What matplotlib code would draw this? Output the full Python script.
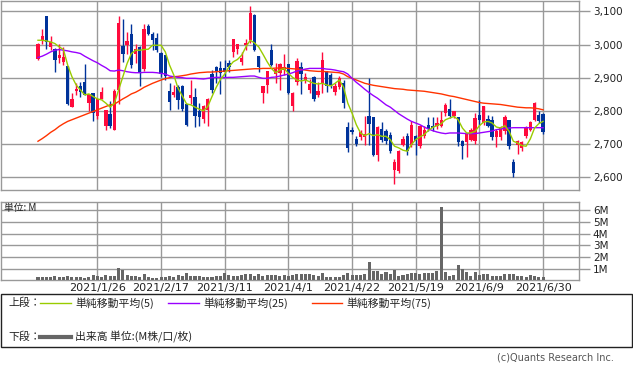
import matplotlib
matplotlib.use("Agg")
import matplotlib.pyplot as plt
from matplotlib.patches import Rectangle
from matplotlib.lines import Line2D
import numpy as np

plt.rcParams['font.family'] = ['DejaVu Sans', 'Noto Sans CJK JP']

# ---- data ----
opens = [2956,3013,3085,2993,2988,2958,2948,2935,2810,2861,2875,2887,2823,2854,2783,2836,2755,2791,2741,2862,
         2996,2998,3031,2973,2993,2926,3056,3033,3021,2975,2968,2861,2848,2873,2875,2821,2840,2843,2798,2775,
         2803,2911,2933,2928,2929,2945,2978,2988,2948,2998,3013,3088,2965,2855,2878,2985,2911,2913,2923,2941,
         2813,2888,2933,2893,2863,2901,2848,2883,2921,2908,2858,2871,2883,2750,2743,2715,2721,2721,2783,2780,
         2668,2745,2740,2728,2621,2618,2698,2725,2698,2723,2693,2723,2758,2753,2753,2755,2793,2805,2783,2781,
         2708,2705,2713,2708,2788,2763,2775,2773,2720,2720,2738,2771,2646,2698,2688,2723,2743,2773,2788,2791]
highs = [3005,3048,3085,3025,2990,3003,2993,2935,2855,2885,2888,2941,2851,2854,2836,2873,2803,2830,2865,3085,
         3076,3038,3063,3003,2995,3063,3061,3038,3035,2978,2968,2885,2878,2878,2878,2821,2893,2868,2823,2818,
         2838,2923,2935,2950,2953,2953,3016,3003,2978,3018,3115,3093,2965,2875,2920,3003,2943,2943,2973,2941,
         2858,2958,2948,2913,2895,2905,2888,2978,2921,2913,2883,2905,2893,2765,2750,2723,2743,2785,2900,2780,
         2753,2765,2745,2735,2653,2683,2725,2733,2768,2728,2758,2755,2780,2780,2780,2798,2823,2836,2798,2781,
         2713,2733,2748,2793,2833,2815,2788,2783,2745,2755,2788,2771,2655,2713,2708,2753,2770,2828,2800,2793]
lows = [2954,3003,2988,2983,2918,2943,2938,2818,2810,2848,2843,2848,2800,2768,2775,2836,2743,2748,2741,2821,
        2948,2973,2928,2943,2875,2920,3028,2985,2978,2901,2893,2801,2841,2805,2800,2753,2821,2750,2753,2763,
        2753,2855,2883,2851,2901,2918,2961,2973,2938,2985,3005,2980,2918,2825,2855,2935,2883,2863,2908,2850,
        2800,2878,2850,2883,2855,2830,2843,2855,2858,2870,2848,2865,2808,2675,2730,2695,2713,2696,2698,2663,
        2648,2705,2700,2673,2578,2613,2693,2668,2690,2668,2688,2718,2738,2738,2745,2750,2785,2778,2778,2693,
        2655,2661,2708,2700,2758,2758,2750,2713,2691,2713,2730,2685,2601,2671,2680,2718,2738,2768,2763,2730]
closes = [3003,3025,3008,3008,2953,2968,2961,2821,2836,2866,2858,2848,2851,2793,2836,2858,2803,2755,2860,3065,
          2973,3010,2938,2987,2913,3046,3033,3013,2983,2911,2905,2828,2858,2833,2805,2758,2848,2783,2781,2813,
          2836,2863,2921,2913,2918,2931,3016,3003,2960,3005,3095,2985,2933,2875,2920,2938,2925,2941,2933,2855,
          2855,2950,2911,2903,2881,2836,2861,2953,2875,2878,2875,2898,2823,2688,2735,2701,2735,2731,2761,2668,
          2750,2711,2708,2678,2646,2680,2715,2678,2758,2708,2755,2743,2745,2748,2763,2771,2818,2783,2798,2705,
          2693,2733,2743,2778,2773,2815,2755,2720,2738,2751,2780,2693,2611,2708,2705,2748,2766,2825,2768,2735]
ma5 = [3013,3013,3011,3008,3003,2993,2985,2938,2903,2878,2863,2848,2851,2843,2836,2833,2823,2811,2823,2863,
       2903,2943,2973,2983,2983,2985,2986,2998,2998,2998,2978,2938,2908,2868,2845,2821,2818,2811,2805,2800,
       2813,2843,2871,2895,2911,2933,2948,2955,2968,2993,3013,3005,2993,2971,2948,2928,2915,2923,2928,2913,
       2901,2893,2890,2893,2888,2883,2881,2883,2878,2875,2883,2893,2871,2823,2793,2758,2733,2725,2731,2725,
       2728,2723,2723,2713,2693,2688,2681,2678,2698,2713,2721,2728,2741,2750,2755,2761,2773,2778,2783,2773,
       2748,2733,2733,2738,2755,2766,2768,2763,2751,2748,2755,2738,2708,2703,2695,2693,2715,2748,2761,2768]
ma25 = [2961,2965,2971,2978,2983,2985,2983,2981,2978,2976,2973,2965,2958,2951,2945,2937,2930,2921,2920,2923,
        2921,2918,2916,2915,2915,2916,2916,2916,2915,2913,2911,2905,2903,2901,2900,2898,2898,2898,2897,2896,
        2898,2900,2901,2901,2900,2901,2901,2902,2903,2904,2905,2905,2901,2898,2898,2901,2902,2905,2908,2911,
        2915,2920,2923,2926,2928,2928,2928,2928,2926,2925,2923,2920,2918,2911,2898,2886,2876,2865,2855,2846,
        2838,2828,2818,2811,2801,2791,2783,2775,2768,2763,2758,2751,2745,2740,2736,2733,2731,2733,2733,2733,
        2732,2731,2731,2731,2733,2735,2737,2739,2743,2745,2747,2748,2749,2749,2749,2749,2749,2749,2749,2749]
ma75 = [2708,2716,2725,2735,2743,2753,2761,2768,2773,2778,2783,2788,2793,2798,2803,2808,2813,2818,2820,2828,
        2836,2843,2851,2856,2863,2871,2877,2883,2888,2893,2897,2900,2903,2904,2906,2908,2911,2913,2915,2916,
        2917,2917,2918,2919,2920,2921,2922,2923,2924,2925,2926,2927,2927,2928,2928,2928,2929,2929,2929,2928,
        2927,2926,2925,2923,2921,2920,2919,2919,2918,2917,2916,2915,2911,2903,2898,2893,2888,2883,2880,2877,
        2875,2873,2871,2869,2867,2866,2865,2863,2862,2861,2860,2859,2857,2855,2853,2851,2848,2845,2843,2840,
        2837,2834,2831,2828,2825,2823,2822,2821,2820,2819,2817,2815,2813,2811,2810,2809,2809,2808,2806,2803]
volume_m = [0.29,0.31,0.31,0.29,0.37,0.31,0.26,0.37,0.26,0.29,0.29,0.23,0.29,0.43,0.34,0.31,0.46,0.37,0.37,1.09,
            0.89,0.43,0.40,0.40,0.29,0.51,0.29,0.23,0.23,0.31,0.31,0.40,0.31,0.43,0.34,0.63,0.40,0.37,0.37,0.31,
            0.31,0.31,0.37,0.40,0.60,0.46,0.37,0.34,0.43,0.51,0.51,0.34,0.57,0.40,0.46,0.46,0.46,0.40,0.43,0.40,
            0.46,0.51,0.54,0.54,0.51,0.46,0.37,0.60,0.31,0.31,0.31,0.26,0.46,0.63,0.46,0.46,0.46,0.54,1.60,0.80,
            0.80,0.51,0.69,0.57,0.89,0.40,0.46,0.54,0.60,0.60,0.51,0.63,0.66,0.60,0.77,6.29,0.71,0.40,0.46,1.31,
            0.97,0.69,0.40,0.69,0.46,0.51,0.57,0.40,0.40,0.37,0.57,0.51,0.51,0.40,0.37,0.31,0.46,0.37,0.31,0.29]
date_pos = [14, 29, 44, 59, 74, 89, 104, 119]
date_labels = ['2021/1/26', '2021/2/17', '2021/3/11', '2021/4/1', '2021/4/22', '2021/5/19', '2021/6/9', '2021/6/30']
price_ticks = [2600, 2700, 2800, 2900, 3000, 3100]
vol_ticks = [1, 2, 3, 4, 5, 6]
vol_labels = ['1M', '2M', '3M', '4M', '5M', '6M']

RED = '#ff0a3c'
BLUE = '#00339a'
GRID = '#999999'
W, H = 633, 372

fig = plt.figure(figsize=(W / 100, H / 100), dpi=100)

def box(l, t, r, b):
    return [l / W, 1 - b / H, (r - l) / W, (b - t) / H]

ax = fig.add_axes(box(0.5, 0.5, 579, 190))
axv = fig.add_axes(box(0.5, 201.7, 579, 280.3))

xs = np.arange(len(closes))
o = np.array(opens); c = np.array(closes); h = np.array(highs); l = np.array(lows)
up = c >= o
cols = np.where(up, RED, BLUE)

# candles
ax.vlines(xs, l, h, colors=cols, linewidth=1.0, zorder=3)
body_low = np.minimum(o, c)
body_h = np.maximum(np.abs(c - o), 2)
ax.bar(xs, body_h, bottom=body_low, width=0.78, color=cols, linewidth=0, zorder=4)

# moving averages
ax.plot(xs, ma75, color='#ff3300', lw=1.0, zorder=5)
ax.plot(xs, ma25, color='#9900ff', lw=1.0, zorder=5)
ax.plot(xs, ma5, color='#99cc00', lw=1.0, zorder=6)

xlim = (-8.83, 127.47)
ax.set_xlim(*xlim)
ax.set_ylim(2560.8, 3133.1)
ax.set_xticks(date_pos)
ax.set_xticklabels([])
ax.set_yticks(price_ticks)
ax.set_yticklabels([f'{v:,}' for v in price_ticks])
ax.yaxis.tick_right()
ax.tick_params(axis='y', length=8, color=GRID, width=1, labelsize=7.5, pad=2, labelcolor='#222222')
ax.tick_params(axis='x', length=0)
ax.grid(True, color=GRID, lw=1.0, zorder=0)
ax.set_axisbelow(True)
for s in ax.spines.values():
    s.set_color(GRID)
    s.set_linewidth(1.0)

# volume
axv.bar(xs, volume_m, width=0.72, color='#666666', linewidth=0, zorder=3)
axv.set_xlim(*xlim)
axv.set_ylim(0, 6.74)
axv.set_yticks(vol_ticks)
axv.set_yticklabels(vol_labels)
axv.yaxis.tick_right()
axv.tick_params(axis='y', length=8, color=GRID, width=1, labelsize=7.5, pad=2, labelcolor='#222222')
axv.set_xticks(date_pos)
axv.set_xticklabels(date_labels)
axv.tick_params(axis='x', length=0, labelsize=8, pad=2, labelcolor='#222222')
axv.grid(True, color=GRID, lw=1.0, zorder=0)
axv.set_axisbelow(True)
for s in axv.spines.values():
    s.set_color(GRID)
    s.set_linewidth(1.0)

jp = ['Noto Sans CJK JP', 'DejaVu Sans']
fig.text(4 / W, 1 - 208.5 / H, '単位: M', family=jp, fontsize=7, va='center', ha='left', color='#222222')

# legend box
fig.patches.append(Rectangle((0.5 / W, 1 - 347 / H), 631.5 / W, 53 / H, transform=fig.transFigure,
                             fill=False, edgecolor='#222222', lw=1.0))
y1 = 1 - 303 / H
y2 = 1 - 337 / H
fig.text(8 / W, y1, '上段：', family=jp, fontsize=7.8, va='center', ha='left', color='#222222')
fig.text(8 / W, y2, '下段：', family=jp, fontsize=7.8, va='center', ha='left', color='#222222')
for x0, x1, col, lab in [(40, 71, '#99cc00', '単純移動平均(5)'),
                         (168, 199, '#9900ff', '単純移動平均(25)'),
                         (312, 342, '#ff3300', '単純移動平均(75)')]:
    fig.add_artist(Line2D([x0 / W, x1 / W], [y1, y1], color=col, lw=1.0, transform=fig.transFigure))
    fig.text((x1 + 4) / W, y1, lab, family=jp, fontsize=7.8, va='center', ha='left', color='#222222')
fig.add_artist(Line2D([40 / W, 71 / W], [y2, y2], color='#666666', lw=3.0, transform=fig.transFigure))
fig.text(75 / W, y2, '出来高 単位:(M株/口/枚)', family=jp, fontsize=7.8, va='center', ha='left', color='#222222')

fig.text(614 / W, 1 - 357.5 / H, '(c)Quants Research Inc.', fontsize=7, va='center', ha='right', color='#555555')

fig.savefig('out.png', dpi=100)
